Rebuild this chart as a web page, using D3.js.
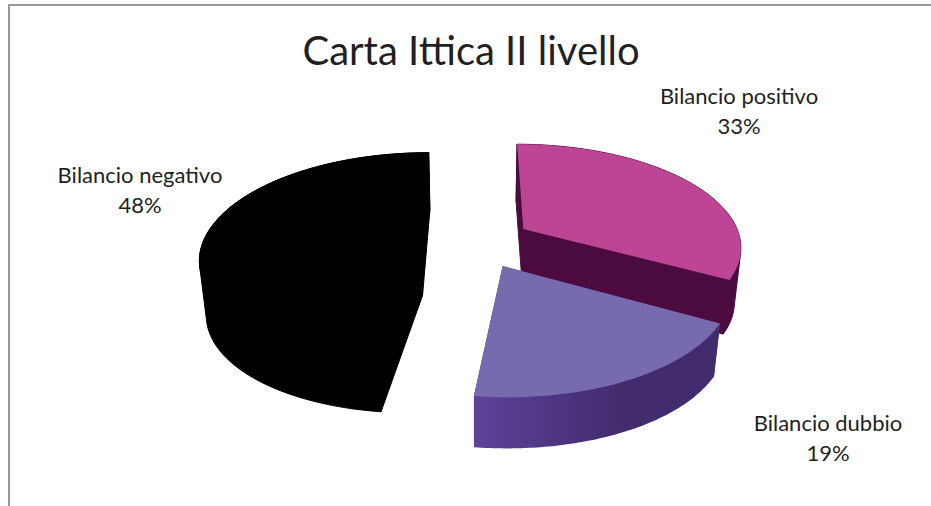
<!DOCTYPE html>
<html><head><meta charset="utf-8">
<script src="https://cdn.jsdelivr.net/npm/d3@7"></script>
<style>html,body{margin:0;background:#fff;overflow:hidden}svg{display:block}text{font-family:Lato,"Open Sans",sans-serif;fill:#231f20;text-anchor:middle}</style>
</head><body><svg id="c" width="931" height="506"></svg>
<script>
const title = "Carta Ittica II livello";
const categories = ["Bilancio positivo", "Bilancio dubbio", "Bilancio negativo"];
const values = [33, 19, 48];
const percentLabels = ["33%", "19%", "48%"];
const topColors = ["#bd4596", "#786aae", "#000000"];
const wallColors = ["#4c0b3f", "url(#wallGrad)", "#000000"];
const labelAnchors = [[739, 104], [828, 431], [140, 183]];
const drawOrder = [2, 0, 1];

const P = {x0: 476.5, y0: 242, rx: 218, ry: 102, k: 0.158, explode: 0.255, depth: 55, shrink: 0.975, startDeg: 0};
const svg = d3.select("#c");
const defs = svg.append("defs");
const g = defs.append("linearGradient").attr("id", "wallGrad").attr("gradientUnits", "userSpaceOnUse")
  .attr("x1", 475).attr("x2", 620).attr("y1", 0).attr("y2", 0);
g.append("stop").attr("offset", 0).attr("stop-color", "#5f4499");
g.append("stop").attr("offset", 0.25).attr("stop-color", "#563c90");
g.append("stop").attr("offset", 1).attr("stop-color", "#432c6e");

const frame = d3.path();
frame.moveTo(9, 506); frame.lineTo(9, 5); frame.lineTo(931, 5);
svg.append("path").attr("d", frame.toString()).attr("fill", "none").attr("stroke", "#9a9a9a").attr("stroke-width", 2);

const rad = Math.PI / 180;
const arcs = d3.pie().sort(null).startAngle(P.startDeg * rad).endAngle((360 + P.startDeg) * rad)(values);
const line = d3.line().curve(d3.curveLinear);

function project(u, v, bottom) {
  const w = 1 + P.k * v;
  const X = P.rx * u / w, Y = -P.ry * v / w;
  return bottom ? [P.x0 + P.shrink * X, P.y0 + P.depth + P.shrink * Y] : [P.x0 + X, P.y0 + Y];
}
function geometry(a) {
  const mid = (a.startAngle + a.endAngle) / 2;
  const eu = P.explode * Math.sin(mid), ev = P.explode * Math.cos(mid);
  const angles = d3.range(0, 81).map(t => a.startAngle + (a.endAngle - a.startAngle) * t / 80);
  return {
    apex: b => project(eu, ev, b),
    rim: b => angles.map(t => project(eu + Math.sin(t), ev + Math.cos(t), b))
  };
}
const add = (pts, fill, stroke) => svg.append("path").attr("d", line(pts) + "Z").attr("fill", fill)
  .attr("stroke", stroke).attr("stroke-width", stroke === "none" ? 0 : 1).attr("stroke-linejoin", "round");

drawOrder.forEach(i => {
  const s = geometry(arcs[i]);
  const topRim = s.rim(false), botRim = s.rim(true);
  const flat = i === 1 ? "#432c6e" : wallColors[i];
  const seam = i === 1 ? "none" : wallColors[i];
  add([s.apex(false), topRim[0], botRim[0], s.apex(true)], flat, seam);
  add([s.apex(false), topRim[80], botRim[80], s.apex(true)], flat, seam);
  add(d3.polygonHull(topRim.concat(botRim)), wallColors[i], seam);
  add([s.apex(false)].concat(topRim), topColors[i], i === 2 ? "#000000" : "none");
});

svg.append("text").attr("x", 471).attr("y", 65).attr("font-size", 40).text(title);
categories.forEach((c, i) => {
  const [x, y] = labelAnchors[i];
  svg.append("text").attr("x", x).attr("y", y).attr("font-size", 22).text(c);
  svg.append("text").attr("x", x).attr("y", y + 30).attr("font-size", 22).text(percentLabels[i]);
});
</script></body></html>
